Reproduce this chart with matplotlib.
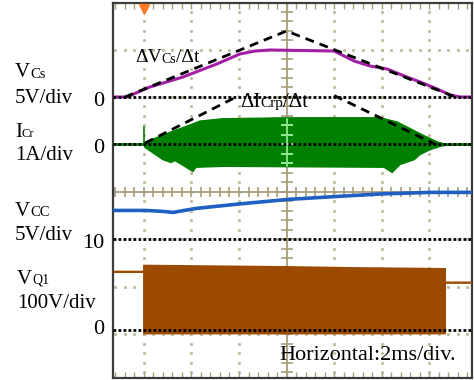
import numpy as np
import matplotlib
matplotlib.use("Agg")
import matplotlib.pyplot as plt
from matplotlib.transforms import IdentityTransform
from matplotlib.patches import Polygon

# ---------------- data (time in ms, trigger at 0) ----------------
# VCs  (V), 5 V/div, zero at +2 div
t_vcs = [-1.31, -0.72, 0.25, 1.64, 3.06, 4.04, 4.67, 5.31, 8.0, 8.84, 9.52,
         10.23, 10.95, 11.62, 12.34, 12.88, 13.31, 13.81]
v_vcs = [0, 0, 1.05, 2.1, 3.47, 4.53, 4.84, 4.95, 4.84, 3.79, 3.26,
         2.95, 2.21, 1.58, 0.84, 0.21, 0, 0]
t_vcs_slope = [-0.8, 6.0, 13.1]
v_vcs_slope = [0.0, 6.95, 0.0]

# ICr (A), 1 A/div, zero at +1 div  -- envelope of the switching current
t_icr_up = [-1.31, 0, 0.08, 1.14, 2.06, 2.36, 3.33, 6.15, 9.94, 10.65, 11.2,
            11.79, 12.34, 12.63, 13.81]
i_icr_up = [0, 0, 0.04, 0.25, 0.42, 0.48, 0.53, 0.55, 0.55, 0.46, 0.32,
            0.17, 0.04, 0, 0]
t_icr_lo = [-1.31, 0, 0.04, 0.8, 1.14, 1.31, 1.94, 2.06, 2.19, 3.33, 10.1,
            10.44, 10.78, 11.37, 11.62, 12.04, 12.46, 12.63, 13.81]
i_icr_lo = [0, 0, -0.06, -0.32, -0.38, -0.34, -0.53, -0.57, -0.48, -0.46,
            -0.48, -0.59, -0.42, -0.32, -0.21, -0.11, -0.04, -0.02, 0]
t_icr_spike = [0, 0]
i_icr_spike = [0, 0.36]
t_icr_slope_l = [0.05, 4.0]
i_icr_slope_l = [0.03, 1.03]
t_icr_slope_r = [8.0, 12.4]
i_icr_slope_r = [1.03, -0.03]

# VCC (V), 5 V/div, 10 V at -1 div
t_vcc = [-1.31, 0.08, 0.8, 1.22, 2.19, 4.04, 6.06, 8.17, 9.98, 12.04, 13.81]
v_vcc = [13.05, 13.05, 12.95, 12.84, 13.26, 13.74, 14.21, 14.53, 14.79, 14.95, 14.95]

# VQ1 (V), 100 V/div, zero at -2.9 div  -- envelope of the switching voltage
t_vq1_up = [-1.31, 0, 0, 6.15, 8.7, 12.67, 12.67, 13.81]
v_vq1_up = [122, 122, 135, 132, 130, 128, 99, 99]
t_vq1_lo = [-1.31, 0, 0, 12.67, 12.67, 13.81]
v_vq1_lo = [122, 122, -8.4, -8.4, 99, 99]

# ---------------- channel mapping (value -> screen divisions) ----------------
def y_vcs(v):
    return 2.0 + np.asarray(v, float) / 5.0

def y_icr(i):
    return 1.0 + np.asarray(i, float) / 1.0

def y_vcc(v):
    return -1.0 + (np.asarray(v, float) - 10.0) / 5.0

def y_vq1(v):
    return -2.9 + np.asarray(v, float) / 100.0

W, H = 474, 380
fig = plt.figure(figsize=(W / 100, H / 100), dpi=100)
ax = fig.add_axes([113 / W, 2 / H, (472 - 113) / W, (378 - 3) / H])
ax.set_xlim(-1.30, 13.8)
ax.set_ylim(-3.92, 3.98)

grid_col = "#c2bba2"
axis_col = "#a69d7c"

# dotted graticule
for tg in [0, 2, 4, 8, 10, 12]:
    yy = np.arange(-3.8, 3.9, 0.2)
    ax.plot(np.full_like(yy, tg), yy, ls="none", marker="s", ms=1.1, color=grid_col, zorder=1)
for yg in [-3, -2, -1, 1, 2, 3]:
    tt = np.arange(-1.2, 13.7, 0.4)
    ax.plot(tt, np.full_like(tt, yg), ls="none", marker="s", ms=1.1, color=grid_col, zorder=1)

# centre cross-hair with ticks
ax.axvline(6, color=axis_col, lw=1.3, zorder=1.5)
ax.axhline(0, color=axis_col, lw=1.3, zorder=1.5)
tt = np.arange(-1.2, 13.7, 0.4)
ax.plot(tt, np.zeros_like(tt), ls="none", marker="|", ms=7, mew=1.2, color=axis_col, zorder=1.5)
yy = np.arange(-3.8, 3.9, 0.2)
ax.plot(np.full_like(yy, 6), yy, ls="none", marker="_", ms=8, mew=1.2, color=axis_col, zorder=1.5)

# frame ticks
ax.set_xticks(np.arange(-1.2, 13.7, 0.4))
ax.set_xticklabels([])
ax.set_yticks([])
ax.tick_params(axis="x", direction="in", length=4, width=1, color=axis_col,
               top=True, bottom=True)
for s in ax.spines.values():
    s.set_color("#3c3c3c")
    s.set_linewidth(1.6)

# VQ1 switching block
vq_poly = np.column_stack([np.concatenate([t_vq1_up, t_vq1_lo[::-1]]),
                           np.concatenate([y_vq1(v_vq1_up), y_vq1(v_vq1_lo[::-1])])])
ax.add_patch(Polygon(vq_poly, closed=True, facecolor="#9b4a00", edgecolor="#9b4a00",
                     lw=1.2, zorder=3))

# ICr switching block
ic_poly = np.column_stack([np.concatenate([t_icr_up, t_icr_lo[::-1]]),
                           np.concatenate([y_icr(i_icr_up), y_icr(i_icr_lo[::-1])])])
green_patch = Polygon(ic_poly, closed=True, facecolor="#008000", edgecolor="#008000",
                      lw=1.0, zorder=3)
ax.add_patch(green_patch)
ax.plot(t_icr_up, y_icr(i_icr_up), color="#008000", lw=1.8, zorder=3)
ax.plot(t_icr_spike, y_icr(i_icr_spike), color="#008000", lw=1.2, zorder=3)
# cross-hair shows through the green trace as light green
l1 = ax.axvline(6, color="#8fe88f", lw=1.3, zorder=3.5)
l2, = ax.plot(np.full_like(yy, 6), yy, ls="none", marker="_", ms=8, mew=1.2,
              color="#8fe88f", zorder=3.5)
l1.set_clip_path(green_patch)
l2.set_clip_path(green_patch)

# VCC
ax.plot(t_vcc, y_vcc(v_vcc), color="#1f5fc2", lw=2.6, zorder=3)

# VCs
ax.plot(t_vcs, y_vcs(v_vcs), color="#a21fa6", lw=2.2, zorder=3)

# reference (ground) markers of channels
for yref in [y_vcs(0), y_icr(0), y_vcc(10), y_vq1(0)]:
    ax.axhline(float(yref), color="black", lw=2.0, ls=(0, (1.0, 0.8)), zorder=4)

# slope lines
ax.plot(t_vcs_slope, y_vcs(v_vcs_slope), color="black", lw=2.0, ls=(0, (3.2, 2.2)), zorder=5)
ax.plot(t_icr_slope_l, y_icr(i_icr_slope_l), color="black", lw=2.0, ls=(0, (3.2, 2.2)), zorder=5)
ax.plot(t_icr_slope_r, y_icr(i_icr_slope_r), color="black", lw=2.0, ls=(0, (3.2, 2.2)), zorder=5)

# trigger marker
ax.plot([0], [3.86], marker="v", ms=7, color="#ff7a26", mec="#ff7a26", zorder=6, clip_on=False)

# ---------------- text ----------------
SERIF = ["Liberation Serif", "DejaVu Serif"]
renderer = fig.canvas.get_renderer()

def rich(x, y, pieces):
    """pieces: (string, fontsize, drop_px) drawn one after another, y = baseline (px from top)."""
    for s, size, drop in pieces:
        t = fig.text(x, H - (y + drop), s, transform=IdentityTransform(),
                     fontsize=size, family=SERIF, ha="left", va="baseline", zorder=10)
        x += t.get_window_extent(renderer).width

rich(15, 77, [("V", 15, 0), ("Cs", 10.5, 1)])
rich(15, 103, [("5V/div", 15, 0)])
rich(93, 106, [("0", 16, 0)])

rich(15, 137, [("I", 15, 0), ("Cr", 9, 0)])
rich(15, 160, [("1A/div", 15, 0)])
rich(93, 153, [("0", 16, 0)])

rich(15, 216, [("V", 15, 0), ("CC", 10.5, 0)])
rich(15, 240, [("5V/div", 15, 0)])
rich(82, 248, [("10", 16, 0)])

rich(17, 284, [("V", 15, 0), ("Q1", 10, 0)])
rich(17, 308, [("100V/div", 15, 0)])
rich(93, 334, [("0", 16, 0)])

rich(135, 62, [("\u0394V", 14, 0), ("Cs", 10, 1), ("/\u0394t", 14, 0)])
rich(240, 107, [("\u0394I", 15, 0), ("Crp", 11, 0), ("/\u0394t", 15, 0)])

rich(279, 360, [("Horizontal:2ms/div.", 16, 0)])

fig.savefig("out.png", dpi=100)
